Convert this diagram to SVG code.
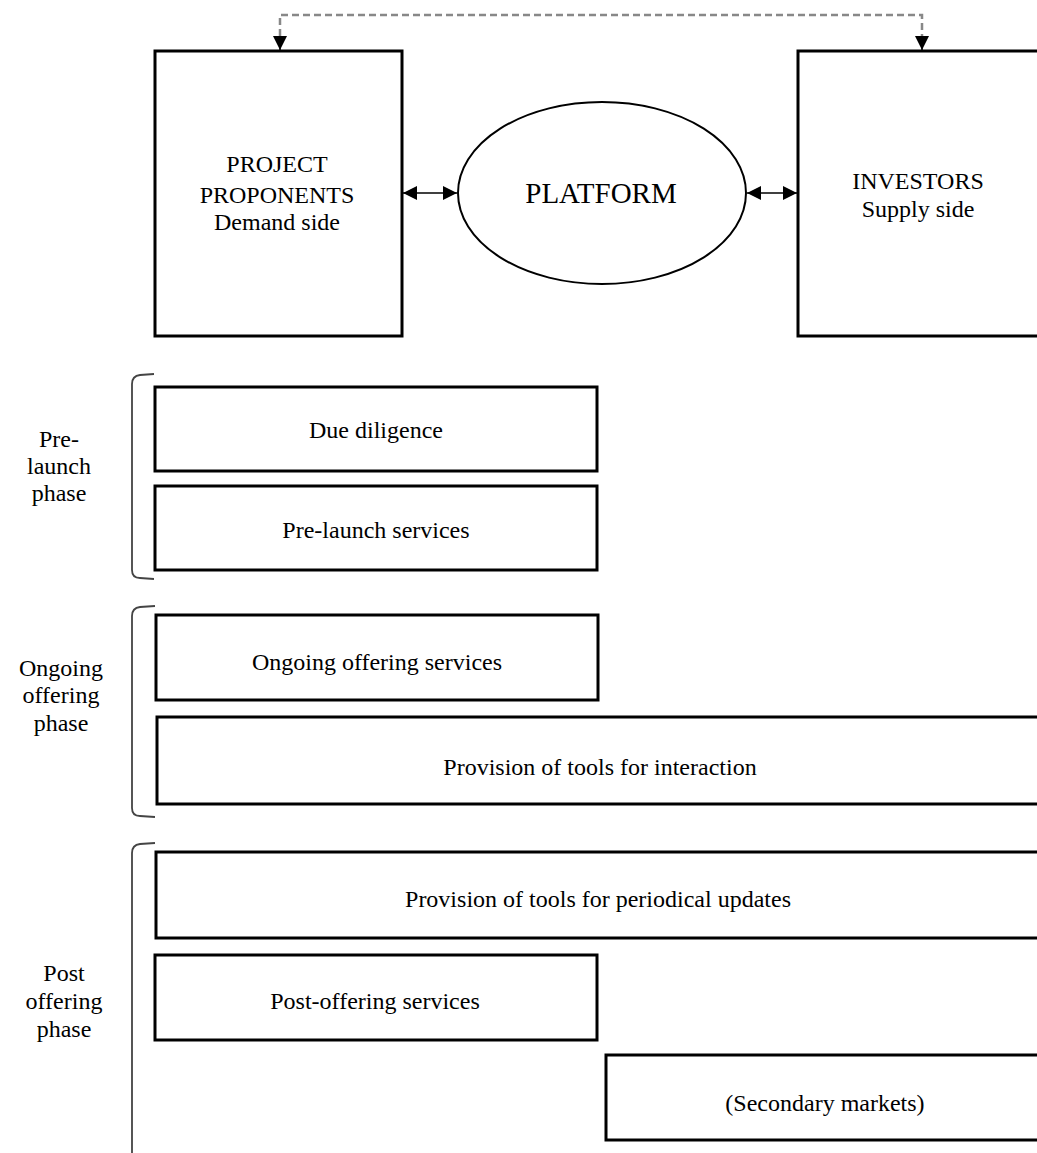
<svg xmlns="http://www.w3.org/2000/svg" width="1037" height="1153" viewBox="0 0 1037 1153">
<style>
.box{fill:#fff;stroke:#000;stroke-width:3}
.t{font-family:"Liberation Serif","Times New Roman",serif;font-size:24px;fill:#000;text-anchor:middle}
.br{fill:none;stroke:#444;stroke-width:1.8}
.ln{fill:none;stroke:#000;stroke-width:1.5}
</style>
<defs>
<marker id="ah2" viewBox="0 0 14 14" refX="14" refY="7" markerWidth="14" markerHeight="14" markerUnits="userSpaceOnUse" orient="auto-start-reverse">
<path d="M0,0 L14,7 L0,14 Z" fill="#000"/>
</marker>
</defs>
<rect width="1037" height="1153" fill="#fff"/>
<g id="connectors">
<path d="M280,36 L280,15 L922,15 L922,36" fill="none" stroke="#888" stroke-width="2.5" stroke-dasharray="7,4"/>
<path d="M280,36 L280,50" class="ln" marker-end="url(#ah2)"/>
<path d="M922,36 L922,50" class="ln" marker-end="url(#ah2)"/>
<path d="M403,193 L457,193" class="ln" marker-start="url(#ah2)" marker-end="url(#ah2)"/>
<path d="M747,193 L797,193" class="ln" marker-start="url(#ah2)" marker-end="url(#ah2)"/>
</g>
<g id="proponents">
<rect class="box" x="155" y="51" width="247" height="285"/>
<text class="t" x="277" y="172">PROJECT</text>
<text class="t" x="277" y="203">PROPONENTS</text>
<text class="t" x="277" y="230">Demand side</text>
</g>
<g id="platform">
<ellipse cx="602" cy="193" rx="144" ry="91" fill="#fff" stroke="#000" stroke-width="2"/>
<text class="t" x="601" y="203" style="font-size:29px">PLATFORM</text>
</g>
<g id="investors">
<rect class="box" x="798" y="51" width="250" height="285"/>
<text class="t" x="918" y="189">INVESTORS</text>
<text class="t" x="918" y="217">Supply side</text>
</g>
<g id="pre-launch">
<path class="br" d="M154,374 L140,375 Q132,376 132,384 L132,570 Q132,578 140,578 L154,579"/>
<text class="t" x="59" y="447">Pre-</text>
<text class="t" x="59" y="474">launch</text>
<text class="t" x="59" y="501">phase</text>
</g>
<g id="due-diligence">
<rect class="box" x="155" y="387" width="442" height="84"/>
<text class="t" x="376" y="438">Due diligence</text>
</g>
<g id="pre-launch-services">
<rect class="box" x="155" y="486" width="442" height="84"/>
<text class="t" x="376" y="538">Pre-launch services</text>
</g>
<g id="ongoing">
<path class="br" d="M155,606 L140,607 Q132,608 132,616 L132,808 Q132,816 140,816 L155,817"/>
<text class="t" x="61" y="676">Ongoing</text>
<text class="t" x="61" y="703">offering</text>
<text class="t" x="61" y="731">phase</text>
</g>
<g id="ongoing-services">
<rect class="box" x="156" y="615" width="442" height="85"/>
<text class="t" x="377" y="670">Ongoing offering services</text>
</g>
<g id="interaction-tools">
<rect class="box" x="157" y="717" width="895" height="87"/>
<text class="t" x="600" y="775">Provision of tools for interaction</text>
</g>
<g id="post">
<path class="br" d="M155,843 L140,844 Q132,845 132,853 L132,1160"/>
<text class="t" x="64" y="981">Post</text>
<text class="t" x="64" y="1009">offering</text>
<text class="t" x="64" y="1037">phase</text>
</g>
<g id="periodical-tools">
<rect class="box" x="156" y="852" width="895" height="86"/>
<text class="t" x="598" y="907">Provision of tools for periodical updates</text>
</g>
<g id="post-services">
<rect class="box" x="155" y="955" width="442" height="85"/>
<text class="t" x="375" y="1009">Post-offering services</text>
</g>
<g id="secondary">
<rect class="box" x="606" y="1055" width="445" height="85"/>
<text class="t" x="825" y="1111">(Secondary markets)</text>
</g>
</svg>
